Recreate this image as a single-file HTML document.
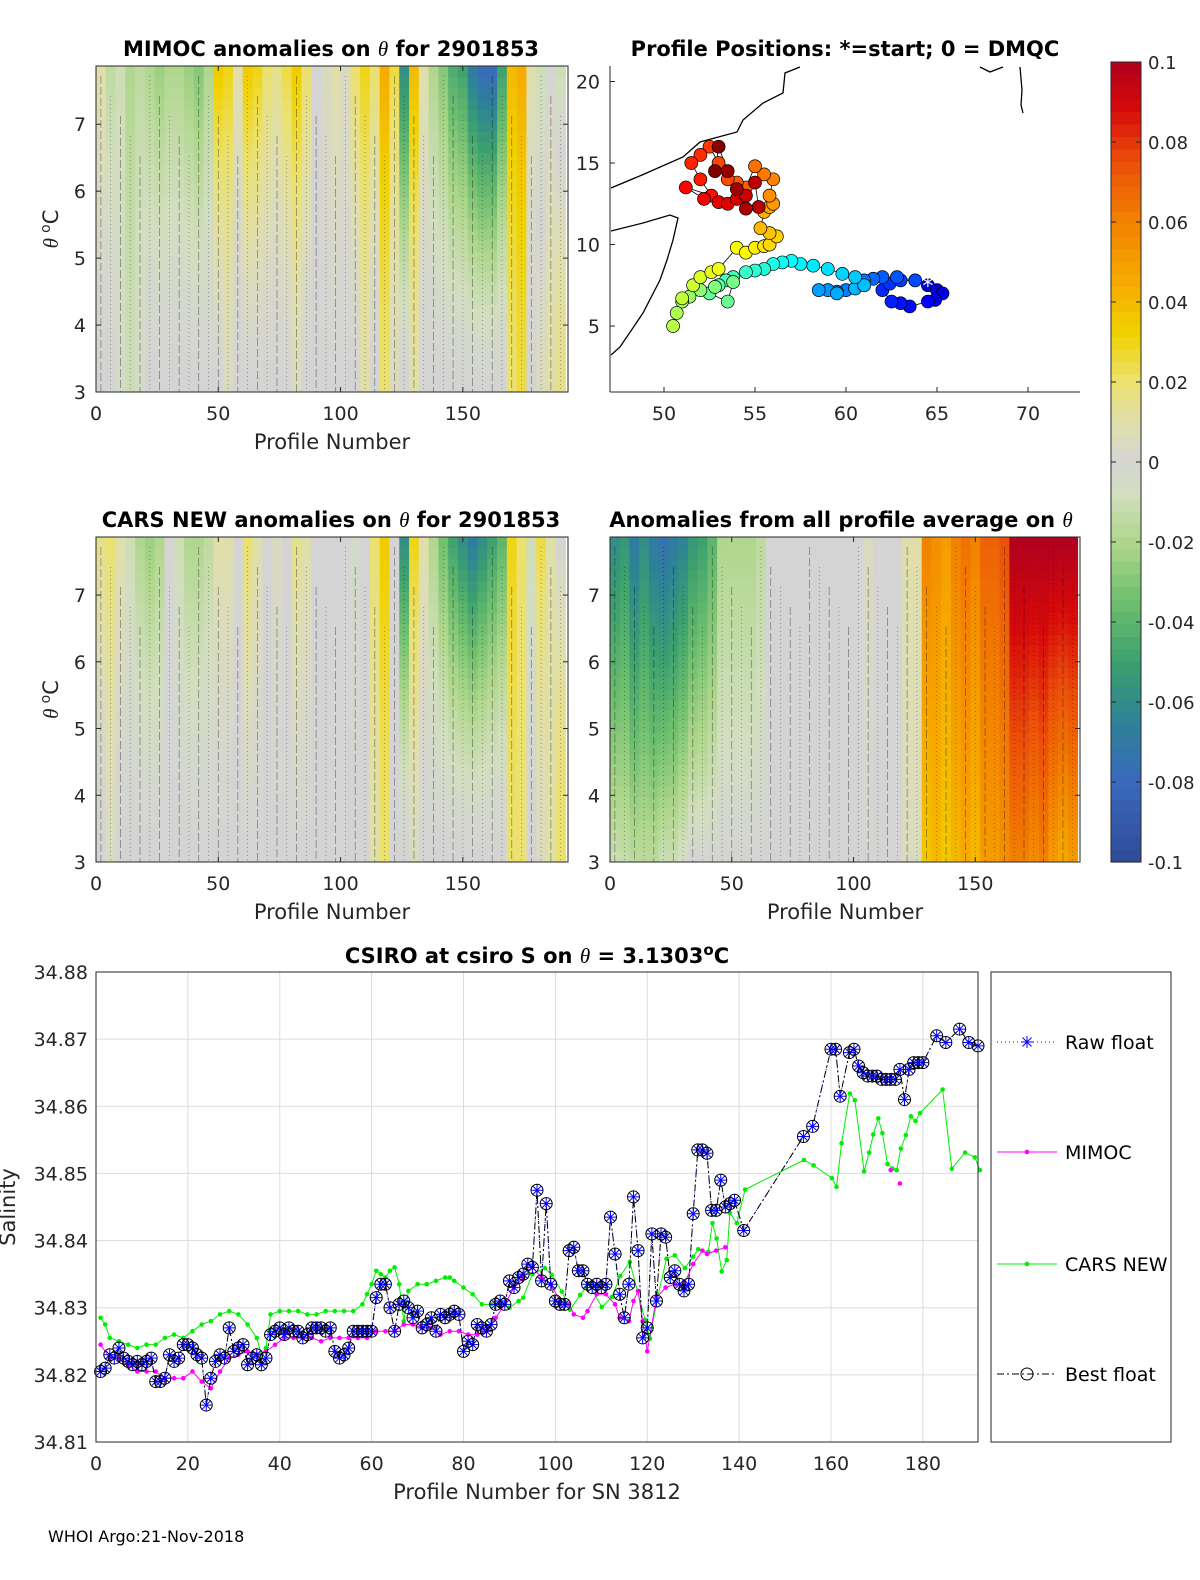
<!DOCTYPE html>
<html><head><meta charset="utf-8">
<style>
html,body{margin:0;padding:0;background:#fff;}
body{width:1200px;height:1575px;overflow:hidden;font-family:"Liberation Sans","DejaVu Sans",sans-serif;}
svg text{font-family:"DejaVu Sans","Liberation Sans",sans-serif;}
</style></head>
<body>
<svg id="fig" width="1200" height="1575" viewBox="0 0 1200 1575" xmlns="http://www.w3.org/2000/svg">
<g id="p1"></g>
<g id="p2"></g>
<g id="p3"></g>
<g id="p4"></g>
<g id="cb"></g>
<g id="p5"></g>
<text x="48" y="1542" font-size="16" fill="#000">WHOI Argo:21-Nov-2018</text>
</svg>
<script>
// ---------- data ----------
const mimocTop=[0.01,-0.015,-0.01,-0.02,-0.015,-0.02,-0.025,-0.02,-0.02,-0.025,-0.03,-0.02,0.035,0.03,0.01,0.035,0.03,0.02,0.015,0.025,0.035,0.02,0.0,0.005,0.01,0.005,0.02,0.03,0.02,0.045,0.025,-0.06,0.04,0.01,-0.02,-0.03,-0.045,-0.05,-0.07,-0.08,-0.08,-0.05,0.04,0.045,0.01,-0.01,0.0,-0.01];
const mimocBot=[0,0,-0.005,-0.01,-0.005,0,0,0,0,0,0,0,0,0.005,0,0,0,0,0,0,0.005,0,0,0,0,0,0,0.01,0,0.02,0.005,0,0.01,0,0,0,0,0,0,0,0,0,0.02,0.025,0,0.005,0.01,0.015];
const carsTop=[0.015,0.02,0.01,-0.01,-0.02,-0.025,-0.02,0.0,-0.01,-0.02,-0.02,-0.015,0.01,0.01,0.0,0.02,0.01,0.0,0.005,0.0,0.015,0.01,0.0,0.0,0.0,0.0,-0.005,0.0,0.02,0.035,0.0,-0.06,0.03,0.01,-0.02,-0.035,-0.05,-0.06,-0.07,-0.06,-0.05,-0.04,0.03,0.02,-0.01,0.025,0.01,0.0];
const carsBot=[0,0.005,0,0,0,0,0,0,0,0,0,0,0,0,0,0,0,0,0,0,0,0,0,0,0,0,0,0,0.01,0.02,0,0,0.005,0,0,0,0,0,0,0,0,0,0.02,0.02,0,0.005,0.01,0.02];
const avgTop=[-0.06,-0.055,-0.07,-0.06,-0.07,-0.075,-0.07,-0.065,-0.055,-0.05,-0.04,-0.02,-0.02,-0.02,-0.02,-0.015,0,0,0,0,0,0,0,0,0,0,0.005,0,0,0,0.01,0.01,0.06,0.055,0.05,0.06,0.065,0.06,0.07,0.07,0.075,0.1,0.1,0.1,0.1,0.1,0.1,0.1];
const avgBot=[-0.01,-0.012,-0.015,-0.015,-0.015,-0.01,-0.01,-0.005,0,0,0,0,0,0,0,0,0,0,0,0,0,0,0,0,0,0,0,0,0,0,0.005,0.005,0.035,0.04,0.035,0.04,0.045,0.04,0.05,0.05,0.055,0.06,0.06,0.055,0.06,0.05,0.045,0.05];

const trackLon=[64.5,65,65.3,64.9,64.5,63.5,63,62.5,62,62.4,63,63.8,62.8,62,61.5,61,60,59.5,59,58.5,59.5,60.5,61,60.5,59.8,59,58.2,57.5,57,56.5,56,55.5,55,54.5,53.8,53.4,53,52.5,53.5,53.8,52.8,52,51.4,51,50.7,50.5,51,51.6,52,52.6,53,54,54.5,55,55.5,55.8,56.2,55.8,55.3,55.5,55.8,56,55.8,56,55.5,55,54.5,54,53.5,53,52.5,52,51.5,52,52.6,51.2,52.2,53,53.5,54,54.5,55,55.2,54.5,54,53.5,53,52.8];
const trackLat=[7.5,7.2,7,6.6,6.5,6.2,6.4,6.5,7.2,7.6,7.8,7.8,8,8,7.9,7.8,7.2,7.1,7.2,7.2,7,7.3,7.5,8,8.2,8.5,8.7,8.8,9,8.9,8.8,8.5,8.4,8.3,8,7.8,7.5,7,6.5,7.7,7.4,7.2,6.8,6.5,5.8,5,6.7,7.5,8,8.3,8.5,9.8,9.5,9.8,9.9,10,10.5,10.7,11,12,12.3,12.5,13,14,14.3,14.8,13.5,13.8,14,15,16,15.5,15,14,13,13.5,12.8,12.6,12.5,12.8,13,13.8,12.3,12.2,13.4,14.5,16,14.5];

const rawX=[1,2,3,4,5,6,7,8,9,10,11,12,13,14,15,16,17,18,19,20,21,22,23,24,25,26,27,28,29,30,31,32,33,34,35,36,37,38,39,40,41,42,43,44,45,46,47,48,49,50,51,52,53,54,55,56,57,58,59,60,61,62,63,64,65,66,67,68,69,70,71,72,73,74,75,76,77,78,79,80,81,82,83,84,85,86,87,88,89,90,91,92,93,94,95,96,97,98,99,100,101,102,103,104,105,106,107,108,109,110,111,112,113,114,115,116,117,118,119,120,121,122,123,124,125,126,127,128,129,130,131,132,133,134,135,136,137,138,139,141,154,156,160,161,162,164,165,166,167,168,169,170,171,172,173,174,175,176,177,178,179,180,183,185,188,190,192];
const rawY=[34.8205,34.821,34.823,34.8225,34.824,34.8225,34.822,34.8215,34.822,34.8215,34.822,34.8225,34.819,34.819,34.8195,34.823,34.822,34.8225,34.8245,34.8245,34.824,34.823,34.8225,34.8155,34.8195,34.822,34.823,34.8225,34.827,34.8235,34.824,34.8245,34.8215,34.8225,34.823,34.8215,34.8225,34.826,34.8265,34.827,34.826,34.827,34.8265,34.8265,34.8255,34.826,34.827,34.827,34.827,34.8265,34.827,34.8235,34.8225,34.823,34.824,34.8265,34.8265,34.8265,34.8265,34.8265,34.8315,34.8335,34.8335,34.830,34.8265,34.8305,34.831,34.830,34.8285,34.8295,34.827,34.8275,34.8285,34.8265,34.829,34.8285,34.829,34.8295,34.829,34.8235,34.825,34.8245,34.8275,34.827,34.8265,34.8275,34.8305,34.831,34.8305,34.834,34.833,34.8345,34.835,34.8365,34.836,34.8475,34.834,34.8455,34.8335,34.831,34.8305,34.8305,34.8385,34.839,34.8355,34.8355,34.8335,34.833,34.8335,34.833,34.8335,34.8435,34.838,34.832,34.8285,34.8335,34.8465,34.8385,34.8255,34.827,34.841,34.831,34.841,34.8405,34.8345,34.8355,34.8335,34.8325,34.8335,34.844,34.8535,34.8535,34.853,34.8445,34.8445,34.849,34.845,34.8455,34.846,34.8415,34.8555,34.857,34.8685,34.8685,34.8615,34.868,34.8685,34.866,34.865,34.8645,34.8645,34.8645,34.864,34.864,34.864,34.864,34.8655,34.861,34.8655,34.8665,34.8665,34.8665,34.8705,34.8695,34.8715,34.8695,34.869];
const bestX=rawX;
const bestY=rawY;
const mimocX=[1,3,5,7,9,11,13,15,17,19,21,23,25,27,29,31,33,35,37,39,41,43,45,47,49,51,53,55,57,59,61,63,65,67,69,71,73,75,77,79,81,83,85,87,89,91,93,95,97,99,101,103,104,106,107,109,111,113,114,116,117,118,119,120,122,124,126,128,130,132,133,135,137,null,173,null,175];
const mimocY=[34.8245,34.8225,34.8225,34.8215,34.8205,34.8205,34.8205,34.8195,34.8195,34.8195,34.8205,34.819,34.818,34.8205,34.8225,34.823,34.8235,34.823,34.8235,34.8245,34.8255,34.8255,34.8255,34.8255,34.825,34.8255,34.8255,34.8255,34.8255,34.8255,34.8265,34.8265,34.8265,34.8275,34.8275,34.827,34.827,34.826,34.8265,34.8265,34.826,34.826,34.8265,34.8285,34.8305,34.833,34.8345,34.836,34.8345,34.8335,34.831,34.8305,34.829,34.8285,34.8295,34.832,34.832,34.8305,34.8285,34.828,34.831,34.8325,34.828,34.8235,34.8315,34.833,34.8335,34.8335,34.8365,34.8385,34.838,34.8385,34.839,null,34.8505,null,34.8485];
const carsX=[1,2,3,5,7,9,11,13,15,17,19,21,23,25,27,29,31,33,35,36,37,38,40,42,44,46,48,50,52,54,56,58,59,60,61,62,63,64,65,66,67,68,70,72,74,76,77,78,80,82,84,86,88,90,92,93,95,97.7,99.2,101.4,103.2,105.4,107.2,110.1,112.3,114.1,116.2,119.5,120.6,122.1,124.2,126,128.2,130,131.1,133.3,134.2,135.1,136.2,137.3,138,139.5,141.3,154.1,156.2,160.2,161.2,162.3,164.1,165.2,167.2,168.3,169.2,170.3,171.2,172.3,173.4,174.3,175.2,176.3,177.4,178.4,179.4,184.3,186.3,189.2,191.3,192.4];
const carsY=[34.8285,34.8275,34.8255,34.825,34.8245,34.824,34.8245,34.8245,34.8255,34.826,34.8255,34.8265,34.8275,34.828,34.829,34.8295,34.829,34.8275,34.8255,34.823,34.824,34.829,34.8295,34.8295,34.8295,34.829,34.829,34.8295,34.8295,34.8295,34.8295,34.8305,34.832,34.8335,34.8355,34.835,34.8345,34.8355,34.836,34.8335,34.828,34.8325,34.8335,34.8335,34.834,34.8345,34.8345,34.834,34.833,34.832,34.8305,34.8305,34.8305,34.830,34.831,34.8315,34.835,34.8359,34.8349,34.8324,34.8297,34.8319,34.8336,34.8301,34.8316,34.8347,34.8368,34.8282,34.8254,34.8311,34.8373,34.8378,34.8359,34.8376,34.8387,34.8383,34.8426,34.8403,34.8354,34.8371,34.8441,34.8426,34.8476,34.852,34.8512,34.8493,34.848,34.8545,34.8619,34.8609,34.8503,34.8531,34.8558,34.8582,34.856,34.8514,34.8507,34.8505,34.8537,34.8557,34.8585,34.8578,34.859,34.8625,34.8507,34.8531,34.8524,34.8505];

const cbTicks=[0.1,0.08,0.06,0.04,0.02,0,-0.02,-0.04,-0.06,-0.08,-0.1];
const cbLabels=["0.1","0.08","0.06","0.04","0.02","0","-0.02","-0.04","-0.06","-0.08","-0.1"];
const salTicks=[34.81,34.82,34.83,34.84,34.85,34.86,34.87,34.88];
const profTicks=[0,20,40,60,80,100,120,140,160,180];

// ---------- helpers ----------
const NS="http://www.w3.org/2000/svg";
function mk(parent,tag,attrs,txt){const e=document.createElementNS(NS,tag);for(const k in attrs)e.setAttribute(k,attrs[k]);if(txt!==undefined)e.textContent=txt;parent.appendChild(e);return e;}
const stops=[[-0.1,[47,75,150]],[-0.08,[58,105,190]],[-0.065,[45,130,150]],[-0.05,[60,160,110]],[-0.035,[110,190,110]],[-0.02,[175,215,140]],[-0.008,[210,222,190]],[0,[212,212,212]],[0.008,[222,222,180]],[0.02,[235,225,110]],[0.032,[240,210,0]],[0.045,[246,170,0]],[0.06,[242,130,0]],[0.075,[235,80,10]],[0.088,[215,10,10]],[0.1,[175,0,30]]];
function cmap(v){v=Math.max(-0.1,Math.min(0.1,v));for(let i=1;i<stops.length;i++){if(v<=stops[i][0]){const a=stops[i-1],b=stops[i];const t=(v-a[0])/(b[0]-a[0]);const c=a[1].map((x,j)=>Math.round(x+(b[1][j]-x)*t));return `rgb(${c[0]},${c[1]},${c[2]})`;}}return 'rgb(175,0,30)';}
function jet(t){const r=Math.max(0,Math.min(1,1.5-Math.abs(4*t-3))),g=Math.max(0,Math.min(1,1.5-Math.abs(4*t-2))),b=Math.max(0,Math.min(1,1.5-Math.abs(4*t-1)));return `rgb(${Math.round(r*255)},${Math.round(g*255)},${Math.round(b*255)})`;}

// ---------- heatmap panels ----------
function heat(gid,X0,X1,Y0,Y1,top,bot,pow,titleA,titleB,tx,ylab){
  const g=document.getElementById(gid);
  const xs=p=>X0+(p/193)*(X1-X0), ys=t=>Y1-(t-3)/(7.87-3)*(Y1-Y0);
  const nr=30, ncol=top.length;
  for(let c=0;c<ncol;c++){
    for(let r=0;r<nr;r++){
      const th=3+(r+0.5)*(4.87/nr); const w=Math.pow((th-3)/4.87,pow);
      const v=top[c]*w+bot[c]*(1-w);
      const x=xs(c*4), x2=xs((c+1)*4), yTop=ys(3+(r+1)*4.87/nr), yB=ys(3+r*4.87/nr);
      const el=mk(g,'rect',{x:x.toFixed(2),y:yTop.toFixed(2),width:(x2-x+0.5).toFixed(2),height:(yB-yTop+0.5).toFixed(2),fill:cmap(v)});
      
      
    }
    const cx=xs(c*4+2);
    const ln=mk(g,'line',{x1:cx,y1:Y0+10+(c%5)*20,x2:cx,y2:Y1,stroke:'#000','stroke-width':0.7,'stroke-dasharray':(c%2?'1 3':'8 3'),opacity:0.45});
    
    
  }
  mk(g,'rect',{x:X0,y:Y0,width:X1-X0,height:Y1-Y0,fill:'none',stroke:'#262626','stroke-width':1});
  [0,50,100,150].forEach(p=>{const x=xs(p);mk(g,'line',{x1:x,y1:Y1,x2:x,y2:Y1-5,stroke:'#262626'});mk(g,'line',{x1:x,y1:Y0,x2:x,y2:Y0+5,stroke:'#262626'});
    const t=mk(g,'text',{x:x,y:Y1+28,'font-size':19,'text-anchor':'middle',fill:'#262626'},String(p));});
  [3,4,5,6,7].forEach(v=>{const y=ys(v);mk(g,'line',{x1:X0,y1:y,x2:X0+5,y2:y,stroke:'#262626'});mk(g,'line',{x1:X1,y1:y,x2:X1-5,y2:y,stroke:'#262626'});
    const t=mk(g,'text',{x:X0-10,y:y+7,'font-size':19,'text-anchor':'end',fill:'#262626'},String(v));});
  const xl=mk(g,'text',{x:(X0+X1)/2,y:Y1+57,'font-size':21,'text-anchor':'middle',fill:'#262626'},'Profile Number');
  const tt=mk(g,'text',{x:tx,y:Y0-10,'font-size':21,'font-weight':'bold','text-anchor':'middle',fill:'#000'});
  mk(tt,'tspan',{},titleA);mk(tt,'tspan',{'font-style':'italic','font-weight':'normal','font-family':'Liberation Serif, serif'},'θ');mk(tt,'tspan',{},titleB);
  if(ylab){const yl=mk(g,'text',{transform:`translate(${X0-38},${(Y0+Y1)/2}) rotate(-90)`,'font-size':21,'text-anchor':'middle',fill:'#262626'});
    
    mk(yl,'tspan',{'font-style':'italic','font-family':'Liberation Serif, serif'},'θ ');mk(yl,'tspan',{dy:-8,'font-size':14},'o');mk(yl,'tspan',{dy:8},'C');}
}
heat('p1',96,568,66,392,mimocTop,mimocBot,1.6,'MIMOC anomalies on ','  for 2901853',331,true);
heat('p3',96,568,537,862,carsTop,carsBot,1.6,'CARS NEW anomalies on ',' for 2901853',331,true);
heat('p4',610,1080,537,862,avgTop,avgBot,1.0,'Anomalies from all profile average on ','',841,false);

// ---------- map ----------
(function(){
  const g=document.getElementById('p2');
  const X0=610,X1=1080,Y0=66,Y1=392;
  const lx=l=>664+(l-50)*18.2, ly=l=>326-(l-5)*16.3;
  const coast1="611,188 642,175 683,157 700,142 737,132 743,120 763,103 783,93 785,73 800,67";
  const coast2="611,231 643,223 670,215 678,218 673,240 667,260 660,280 643,313 620,347 611,355";
  const coast3="1020,67 1022,90 1021,105 1023,113";
  const coast4="980,67 990,72 1003,67";
  [coast1,coast2,coast3,coast4].forEach(p=>{const c=mk(g,'polyline',{points:p,fill:'none',stroke:'#000','stroke-width':1.3});});
  let pts=trackLon.map((l,i)=>lx(l).toFixed(1)+','+ly(trackLat[i]).toFixed(1)).join(' ');
  const tr=mk(g,'polyline',{points:pts,fill:'none',stroke:'#000','stroke-width':0.8});
  const n=trackLon.length;
  trackLon.forEach((l,i)=>{const c=mk(g,'circle',{cx:lx(l),cy:ly(trackLat[i]),r:6.5,fill:jet(0.08+0.92*i/(n-1)),stroke:'#000','stroke-width':0.7});
    });
  const st=mk(g,'text',{x:lx(trackLon[0]),y:ly(trackLat[0])+8,'font-size':22,'text-anchor':'middle',fill:'#fff'},'*');
  mk(g,'line',{x1:X0,y1:Y0,x2:X0,y2:Y1,stroke:'#262626'});mk(g,'line',{x1:X0,y1:Y1,x2:X1,y2:Y1,stroke:'#262626'});
  [50,55,60,65,70].forEach(v=>{const x=lx(v);mk(g,'line',{x1:x,y1:Y1,x2:x,y2:Y1-5,stroke:'#262626'});
    const t=mk(g,'text',{x:x,y:Y1+28,'font-size':19,'text-anchor':'middle',fill:'#262626'},String(v));});
  [5,10,15,20].forEach(v=>{const y=ly(v);mk(g,'line',{x1:X0,y1:y,x2:X0+5,y2:y,stroke:'#262626'});
    const t=mk(g,'text',{x:X0-10,y:y+7,'font-size':19,'text-anchor':'end',fill:'#262626'},String(v));});
  const tt=mk(g,'text',{x:845,y:56,'font-size':21,'font-weight':'bold','text-anchor':'middle',fill:'#000'},'Profile Positions: *=start; 0 = DMQC');
})();

// ---------- colorbar ----------
(function(){
  const g=document.getElementById('cb');
  const X=1111,W=30,Y0=62,Y1=862;
  const cy=v=>Y0+(0.1-v)/0.2*(Y1-Y0);
  for(let i=0;i<64;i++){const v=0.1-(i+0.5)*0.2/64;const r=mk(g,'rect',{x:X,y:(Y0+i*(Y1-Y0)/64).toFixed(2),width:W,height:((Y1-Y0)/64+0.6).toFixed(2),fill:cmap(v)});
    }
  mk(g,'rect',{x:X,y:Y0,width:W,height:Y1-Y0,fill:'none',stroke:'#262626'});
  cbTicks.forEach((v,i)=>{const y=cy(v);mk(g,'line',{x1:X+W-5,y1:y,x2:X+W,y2:y,stroke:'#262626'});mk(g,'line',{x1:X,y1:y,x2:X+5,y2:y,stroke:'#262626'});
    const t=mk(g,'text',{x:1148,y:y+7,'font-size':18,fill:'#262626'},cbLabels[i]);});
})();

// ---------- salinity chart ----------
(function(){
  const g=document.getElementById('p5');
  const X0=96,X1=978,Y0=972,Y1=1442;
  const xs=p=>X0+p/192*(X1-X0), ys=v=>Y1-(v-34.81)/0.07*(Y1-Y0);
  profTicks.forEach(p=>{const x=xs(p);mk(g,'line',{x1:x,y1:Y0,x2:x,y2:Y1,stroke:'#dcdcdc'});
    const t=mk(g,'text',{x:x,y:Y1+28,'font-size':19,'text-anchor':'middle',fill:'#262626'},String(p));});
  salTicks.forEach(v=>{const y=ys(v);mk(g,'line',{x1:X0,y1:y,x2:X1,y2:y,stroke:'#dcdcdc'});
    const t=mk(g,'text',{x:X0-8,y:y+7,'font-size':19,'text-anchor':'end',fill:'#262626'},v.toFixed(2));});
  function path(X,Y){let d='',pen=false;X.forEach((x,i)=>{if(x===null||Y[i]===null){pen=false;return;}d+=(pen?'L':'M')+xs(x).toFixed(1)+','+ys(Y[i]).toFixed(1);pen=true;});return d;}
  const cl=mk(g,'path',{d:path(carsX,carsY),fill:'none',stroke:'#00ee00','stroke-width':1});
  carsX.forEach((x,i)=>{const c=mk(g,'circle',{cx:xs(x),cy:ys(carsY[i]),r:2.3,fill:'#00ee00'});});
  const ml=mk(g,'path',{d:path(mimocX,mimocY),fill:'none',stroke:'#ff00ff','stroke-width':1});
  mimocX.forEach((x,i)=>{if(x===null)return;const c=mk(g,'circle',{cx:xs(x),cy:ys(mimocY[i]),r:2.3,fill:'#ff00ff'});});
  const rl=mk(g,'path',{d:path(rawX,rawY),fill:'none',stroke:'#0000ff','stroke-width':1,'stroke-dasharray':'1 3'});
  const bl=mk(g,'path',{d:path(bestX,bestY),fill:'none',stroke:'#000','stroke-width':1,'stroke-dasharray':'7 3 2 3'});
  rawX.forEach((x,i)=>{const cx=xs(x),cy=ys(rawY[i]);const s=mk(g,'path',{d:`M${cx-6},${cy}H${cx+6}M${cx},${cy-6}V${cy+6}M${cx-4.5},${cy-4.5}L${cx+4.5},${cy+4.5}M${cx-4.5},${cy+4.5}L${cx+4.5},${cy-4.5}`,stroke:'#0000ff','stroke-width':1,fill:'none'});
    });
  bestX.forEach((x,i)=>{const c=mk(g,'circle',{cx:xs(x),cy:ys(bestY[i]),r:6,fill:'none',stroke:'#000','stroke-width':1});});
  mk(g,'rect',{x:X0,y:Y0,width:X1-X0,height:Y1-Y0,fill:'none',stroke:'#262626'});
  const xl=mk(g,'text',{x:537,y:1499,'font-size':21,'text-anchor':'middle',fill:'#262626'},'Profile Number for SN 3812');
  const yl=mk(g,'text',{transform:'translate(15,1207) rotate(-90)','font-size':21,'text-anchor':'middle',fill:'#262626'},'Salinity');
  const tt=mk(g,'text',{x:537,y:963,'font-size':21,'font-weight':'bold','text-anchor':'middle',fill:'#000'});
  mk(tt,'tspan',{},'CSIRO at csiro S on ');mk(tt,'tspan',{'font-style':'italic','font-weight':'normal','font-family':'Liberation Serif, serif'},'θ');mk(tt,'tspan',{},' = 3.1303');mk(tt,'tspan',{dy:-8,'font-size':15},'o');mk(tt,'tspan',{dy:8},'C');
  const lg=mk(g,'g',{});
  mk(lg,'rect',{x:991,y:972,width:180,height:470,fill:'#fff',stroke:'#262626'});
  const ents=[['Raw float',1042,'#0000ff','1 3','star'],['MIMOC',1152,'#ff00ff',null,'dot'],['CARS NEW',1264,'#00ee00',null,'dot'],['Best float',1374,'#000','7 3 2 3','circle']];
  ents.forEach(e=>{const y=e[1];const eg=mk(lg,'g',{});
    const a={x1:997,y1:y,x2:1057,y2:y,stroke:e[2],'stroke-width':1};if(e[3])a['stroke-dasharray']=e[3];mk(eg,'line',a);
    const cx=1027;
    if(e[4]==='star')mk(eg,'path',{d:`M${cx-6},${y}H${cx+6}M${cx},${y-6}V${y+6}M${cx-4.5},${y-4.5}L${cx+4.5},${y+4.5}M${cx-4.5},${y+4.5}L${cx+4.5},${y-4.5}`,stroke:e[2],fill:'none'});
    if(e[4]==='dot')mk(eg,'circle',{cx:cx,cy:y,r:2.3,fill:e[2]});
    if(e[4]==='circle')mk(eg,'circle',{cx:cx,cy:y,r:6,fill:'none',stroke:'#000'});
    mk(eg,'text',{x:1065,y:y+7,'font-size':19,fill:'#000'},e[0]);});
})();
</script>
</body></html>
